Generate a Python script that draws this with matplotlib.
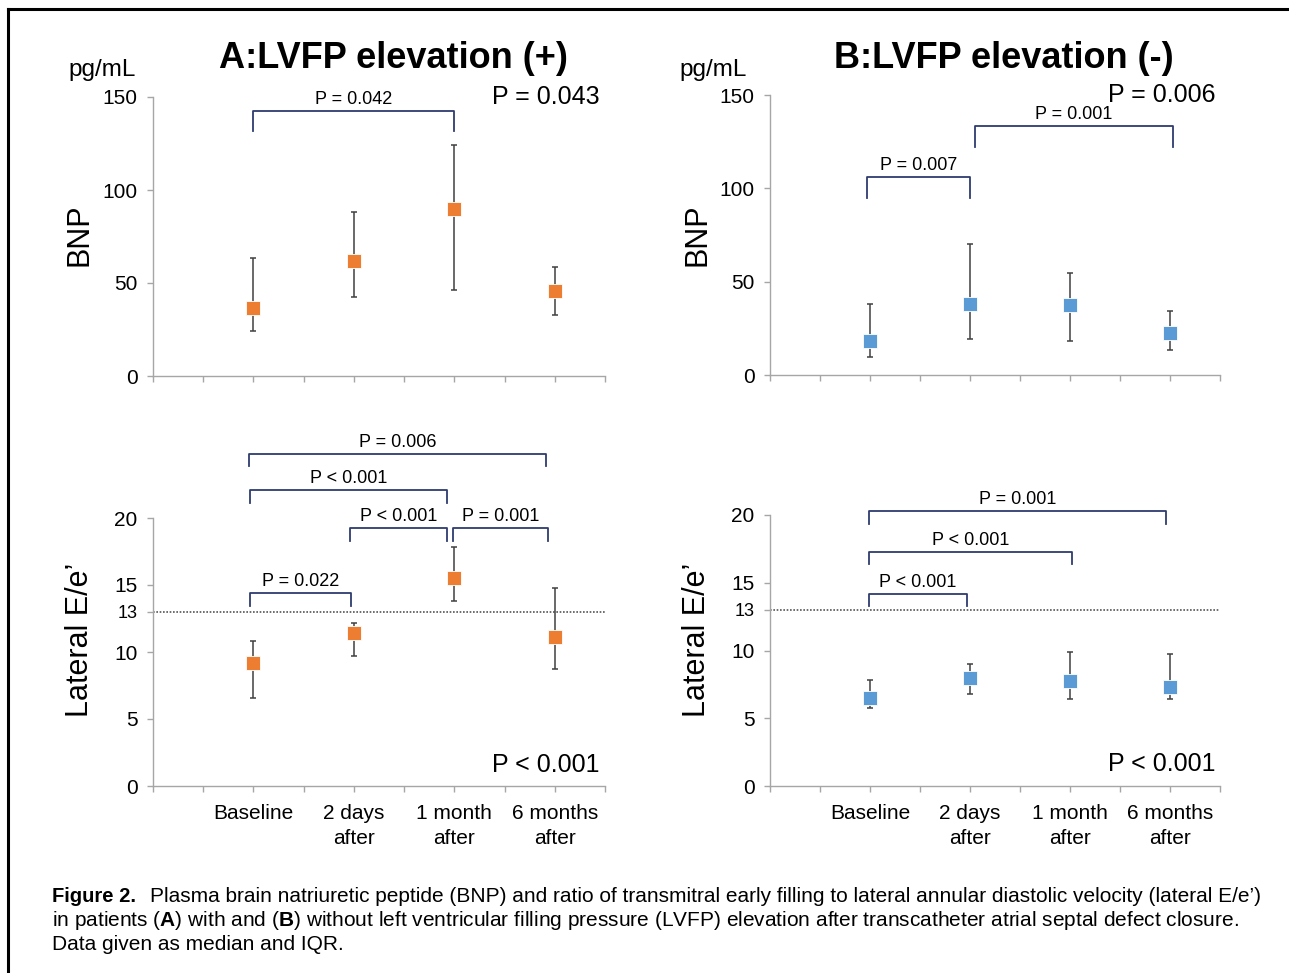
import numpy as np
import matplotlib
matplotlib.use('Agg')
import matplotlib.pyplot as plt
from matplotlib.lines import Line2D

# Arial-like text everywhere, bold mathtext for the (A)/(B) in the caption
plt.rcParams['font.family'] = ['Liberation Sans', 'DejaVu Sans']
plt.rcParams['mathtext.fontset'] = 'custom'
plt.rcParams['mathtext.rm'] = 'Liberation Sans'
plt.rcParams['mathtext.bf'] = 'Liberation Sans:bold'

# ----- data: median and IQR -----
categories = ['Baseline', '2 days\nafter', '1 month\nafter', '6 months\nafter']
x_pos = [1, 2, 3, 4]

bnp_a_med = [36.5, 61.8, 89.8, 45.7]
bnp_a_lo = [24.0, 42.5, 46.0, 32.8]
bnp_a_hi = [63.4, 88.0, 124.0, 58.6]

bnp_b_med = [18.2, 38.0, 37.5, 22.5]
bnp_b_lo = [9.6, 19.3, 18.2, 13.4]
bnp_b_hi = [38.0, 70.2, 54.7, 34.3]

ee_a_med = [9.2, 11.4, 15.5, 11.1]
ee_a_lo = [6.6, 9.7, 13.8, 8.7]
ee_a_hi = [10.8, 12.2, 17.8, 14.8]

ee_b_med = [6.5, 8.0, 7.75, 7.3]
ee_b_lo = [5.75, 6.8, 6.4, 6.4]
ee_b_hi = [7.8, 9.0, 9.9, 9.75]

# pairwise comparisons: (x start, x end, bracket height, label)
pairs_bnp_a = [(1.0, 3.0, 142.5, 'P = 0.042')]
pairs_bnp_b = [(0.97, 2.0, 106.0, 'P = 0.007'),
               (2.05, 4.03, 133.4, 'P = 0.001')]
pairs_ee_a = [(0.97, 1.97, 14.4, 'P = 0.022'),
              (1.96, 2.93, 19.25, 'P < 0.001'),
              (2.99, 3.93, 19.25, 'P = 0.001'),
              (0.97, 2.93, 22.1, 'P < 0.001'),
              (0.96, 3.91, 24.8, 'P = 0.006')]
pairs_ee_b = [(0.99, 1.97, 14.2, 'P < 0.001'),
              (0.99, 3.02, 17.3, 'P < 0.001'),
              (0.99, 3.96, 20.3, 'P = 0.001')]

overall_p = ['P = 0.043', 'P = 0.006', 'P < 0.001', 'P < 0.001']

orange = '#ED7D31'
blue = '#5B9BD5'
bracket_col = '#2E3D6E'
axis_col = '#A6A6A6'

W, H = 1289., 973.
fig = plt.figure(figsize=(W / 100, H / 100), dpi=100)


def px_axes(left, right, top, bottom):
    # axes from pixel edges of the reference picture
    return fig.add_axes([left / W, 1 - bottom / H, (right - left) / W, (bottom - top) / H])


def setup(ax, ymax, yticks, show_labels):
    ax.set_xlim(0, 4.5)
    ax.set_ylim(0, ymax)
    for s in ['top', 'right']:
        ax.spines[s].set_visible(False)
    for s in ['left', 'bottom']:
        ax.spines[s].set_color(axis_col)
        ax.spines[s].set_linewidth(1.0)
    ax.set_xticks(np.arange(0, 4.51, 0.5))
    labels = [''] * 10
    if show_labels:
        for i, c in zip(x_pos, categories):
            labels[2 * i] = c
    ax.set_xticklabels(labels)
    for t in ax.get_xticklabels():
        t.set_linespacing(1.4)
    ax.set_yticks(yticks)
    ax.tick_params(axis='both', direction='out', length=4, width=1.0,
                   color=axis_col, labelsize=15, pad=7)
    ax.tick_params(axis='x', pad=9)


def draw_points(ax, med, lo, hi, col):
    med = np.array(med)
    yerr = [med - np.array(lo), np.array(hi) - med]
    ax.errorbar(x_pos, med, yerr=yerr, fmt='none', ecolor='#404040',
                elinewidth=1.1, capsize=2.2, capthick=1.1, zorder=2)
    ax.plot(x_pos, med, 's', color=col, ms=10.5, mec='white', mew=0.6,
            zorder=3, clip_on=False)


def brackets(ax, pairs, leg):
    for x1, x2, ytop, label in pairs:
        ax.plot([x1, x1, x2, x2], [ytop - leg, ytop, ytop, ytop - leg],
                color=bracket_col, lw=1.3, clip_on=False)
        ax.annotate(label, ((x1 + x2) / 2., ytop), xytext=(0, 2),
                    textcoords='offset points', ha='center', va='bottom',
                    fontsize=13, annotation_clip=False)


# ----- BNP panels -----
ax1 = px_axes(153, 605, 97, 376)
setup(ax1, 150, [0, 50, 100, 150], False)
draw_points(ax1, bnp_a_med, bnp_a_lo, bnp_a_hi, orange)
brackets(ax1, pairs_bnp_a, 11.0)
ax1.text(4.45, 150, overall_p[0], ha='right', va='center', fontsize=18)

ax2 = px_axes(770, 1220, 95, 375)
setup(ax2, 150, [0, 50, 100, 150], False)
draw_points(ax2, bnp_b_med, bnp_b_lo, bnp_b_hi, blue)
brackets(ax2, pairs_bnp_b, 11.0)
ax2.text(4.45, 150, overall_p[1], ha='right', va='center', fontsize=18)

# ----- lateral E/e' panels -----
ax3 = px_axes(153, 605, 518, 786)
ax4 = px_axes(770, 1220, 515, 786)
for ax, med, lo, hi, col, pairs, p in [
        (ax3, ee_a_med, ee_a_lo, ee_a_hi, orange, pairs_ee_a, overall_p[2]),
        (ax4, ee_b_med, ee_b_lo, ee_b_hi, blue, pairs_ee_b, overall_p[3])]:
    setup(ax, 20, [0, 5, 10, 13, 15, 20], True)
    ax.get_yticklabels()[3].set_fontsize(13)
    ax.axhline(13, color='#555555', lw=1.2, ls=(0, (1, 1)), zorder=1)
    draw_points(ax, med, lo, hi, col)
    brackets(ax, pairs, 0.95)
    ax.text(4.45, 1.6, p, ha='right', va='center', fontsize=18)

# ----- titles and axis names -----
fig.text(393 / W, 1 - 58 / H, 'A:LVFP elevation (+)', ha='center', va='center',
         fontsize=26, weight='bold')
fig.text(1004 / W, 1 - 58 / H, 'B:LVFP elevation (-)', ha='center', va='center',
         fontsize=26, weight='bold')
for xc in [102, 713]:
    fig.text(xc / W, 1 - 70 / H, 'pg/mL', ha='center', va='center', fontsize=17.5)
for xc in [80, 697]:
    fig.text(xc / W, 1 - 235 / H, 'BNP', ha='center', va='center', fontsize=22,
             rotation=90)
    fig.text(xc / W, 1 - 640 / H, 'Lateral E/e\u2019', ha='center', va='center',
             fontsize=22, rotation=90)

# ----- caption -----
fig.text(52 / W, 1 - 897 / H, 'Figure 2.', ha='left', va='center', fontsize=14.5,
         weight='bold', family=['Liberation Sans Narrow', 'Liberation Sans'])
fig.text(150 / W, 1 - 897 / H,
         'Plasma brain natriuretic peptide (BNP) and ratio of transmitral early filling '
         'to lateral annular diastolic velocity (lateral E/e\u2019)',
         ha='left', va='center', fontsize=15)
fig.text(52 / W, 1 - 921 / H,
         r'in patients ($\mathbf{A}$) with and ($\mathbf{B}$) without left ventricular '
         'filling pressure (LVFP) elevation after transcatheter atrial septal defect closure.',
         ha='left', va='center', fontsize=15)
fig.text(52 / W, 1 - 945 / H, 'Data given as median and IQR.', ha='left', va='center',
         fontsize=15)

# frame of the journal figure (left and top edges)
fig.add_artist(Line2D([8 / W, 8 / W], [0, 1 - 9 / H], color='black', lw=2.2,
                      transform=fig.transFigure))
fig.add_artist(Line2D([8 / W, 1], [1 - 9 / H, 1 - 9 / H], color='black', lw=2.2,
                      transform=fig.transFigure))

fig.savefig('out.png', dpi=100)
